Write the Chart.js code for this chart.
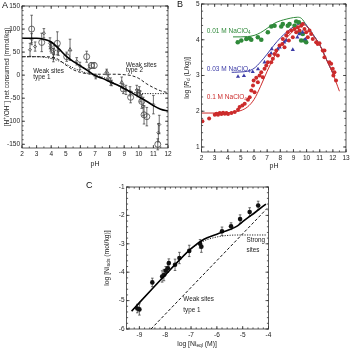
<!DOCTYPE html>
<html>
<head>
<meta charset="utf-8">
<script src="https://cdn.jsdelivr.net/npm/chart.js@4.4.1/dist/chart.umd.min.js"></script>
<style>
html,body{margin:0;padding:0;background:#fff;}
#wrap{position:relative;width:350px;height:350px;background:#fff;overflow:hidden;}
#wrap canvas{position:absolute;left:0;top:0;}
</style>
</head>
<body>
<div id="wrap">
<canvas id="chartA" width="350" height="350"></canvas>
<canvas id="chartB" width="350" height="350"></canvas>
<canvas id="chartC" width="350" height="350"></canvas>
</div>
<script>
const FONT = '"Liberation Sans", Arial, Helvetica, sans-serif';

// ---------------- Panel A data ----------------
const aCurvePH = [2,2.5,3,3.5,4,4.5,5,5.5,6,6.5,7,7.5,8,8.5,9,9.5,10,10.5,11,11.5,12];
const aTotal   = [80,80,80,78,72,58,42,30,20,10,-1,-7,-14,-21,-29,-38,-47,-56,-66,-74,-78];
const aType1   = [40,40,40,39,36,31,24,16,9,4,0,-4,-11,-21,-30,-36,-39,-40,-40,-40,-40];
const aType2   = [40,40,40,40,39,34,22,12,6,3,2,2,2,2,1,-1,-7,-18,-27,-34,-38];

const aCircPH  = [2.66,3.35,4.42,5.06,6.43,6.75,6.95,8.94,9.44,10.2,10.36,10.55,11.3];
const aCircVal = [100,71,69,40,40,21,21,-30,-48,-57,-86,-90,-150];
const aCircErr = [30,20,25,10,12,6,6,10,12,15,20,20,12];

const aTriPH   = [5.29,7.8,8.83];
const aTriVal  = [55,7,-16];
const aTriErr  = [23,6,12];

const aDotPH   = [2.55,2.66,2.9,3.5,3.92,3.96,4.0,4.15,4.15,4.2,4.5,5.75,5.97,6.6,7.05,7.9,8.07,8.14,9.12,9.4,9.86,9.92,10.04,10.1,10.3,11.0,11.4,11.34];
const aDotVal  = [55,78,62,91,69,62,58,48,37,54,53,30,20,14,-3,-6,-14,-17,-32,-35,-32,-39,-35,-46,-68,-64,-107,-125];
const aDotErr  = [14,12,10,10,12,10,10,10,8,10,10,8,8,8,5,6,8,6,10,10,10,8,10,12,20,20,20,20];

// ---------------- Panel B data ----------------
const bRedCurvePH  = [2,2.5,3,3.5,4,4.5,5,5.5,6,6.5,7,7.5,8,8.5,9,9.5,9.8,10,10.5,11,11.5,12,12.5];
const bRedCurve    = [1.95,1.95,1.95,1.95,1.96,1.98,2.02,2.12,2.33,2.7,3.12,3.5,3.82,4.06,4.25,4.38,4.42,4.38,4.12,3.85,3.45,3.05,2.56];
const bBlueCurvePH = [4.3,4.5,5,5.5,6,6.5,7,7.5,8,8.5,9,9.5,9.8,10,10.5,11,11.5,12];
const bBlueCurve   = [3.09,3.09,3.1,3.12,3.2,3.38,3.6,3.84,4.05,4.22,4.36,4.45,4.47,4.4,4.14,3.86,3.46,3.06];
const bGreenCurvePH= [4.4,5,5.5,6,6.5,7,7.5,8,8.5,9,9.3,9.6,10,10.5,11,11.5,12];
const bGreenCurve  = [4.08,4.08,4.09,4.12,4.2,4.32,4.45,4.53,4.58,4.62,4.63,4.6,4.4,4.14,3.86,3.46,3.08];

const bRedPH  = [2.07,2.58,3.01,3.14,3.26,3.39,3.52,3.64,3.77,3.9,4.02,4.28,4.53,4.78,4.9,5.11,5.29,5.54,5.67,5.79,5.92,5.97,6.04,6.17,6.29,6.42,6.55,6.67,6.8,6.93,7.05,7.18,7.31,7.43,7.56,7.69,7.81,7.94,8.15,8.19,8.32,8.45,8.57,8.65,8.83,8.95,9.08,9.21,9.33,9.46,9.59,9.71,9.84,9.97,10.09,10.22,10.35,10.47,10.73,10.85,10.98,11.23,11.36,11.36,11.74,11.87,11.99,12.12,12.04,12.24];
const bRedVal = [1.72,1.8,1.9,1.93,1.9,1.95,1.92,1.96,1.93,1.95,1.92,1.95,1.98,2.04,2.12,2.16,2.21,2.32,2.39,2.58,2.72,2.86,2.53,2.94,2.81,3.0,3.09,2.95,3.19,3.28,3.37,3.56,3.37,3.47,3.6,3.7,3.56,3.84,3.88,4.02,3.79,4.12,4.21,3.98,4.26,4.07,4.3,4.21,4.35,4.26,4.39,4.44,4.3,4.21,4.07,4.26,4.16,4.02,3.93,3.88,3.9,3.7,3.7,3.51,3.37,3.33,3.19,3.09,3.0,2.86];
const bBluePH  = [4.78,5.23,5.9,6.3,6.8,7.3,7.35,7.8,7.95,8.3,8.45,8.95,9.3,9.45,9.7,9.9];
const bBlueVal = [2.97,2.99,3.1,3.18,3.37,3.62,3.74,3.74,3.79,3.93,3.98,3.72,4.07,4.16,4.21,4.02];
const bGreenPH  = [4.76,5.03,5.41,5.66,5.79,6.29,6.55,7.05,7.31,7.56,8.07,8.19,8.57,8.7,9.08,9.21,9.41,9.46,9.59,9.71,9.84,9.97];
const bGreenVal = [3.93,3.98,4.02,4.04,4.0,4.07,4.0,4.21,4.37,4.39,4.37,4.44,4.39,4.44,4.39,4.51,4.49,4.21,3.98,4.16,3.98,3.93];

// ---------------- Panel C data ----------------
const cSolidX  = [-9.3,-9,-8.5,-8,-7.5,-7,-6.5,-6,-5.5,-5.2,-5,-4.5,-4.1];
const cSolidY  = [-5.37,-5.07,-4.58,-4.1,-3.62,-3.17,-2.84,-2.66,-2.5,-2.37,-2.22,-1.88,-1.6];
const cStrongX = [-9.3,-9,-8.5,-8,-7.5,-7,-6.5,-6,-5.5,-5,-4.5,-4.1];
const cStrongY = [-5.37,-5.07,-4.58,-4.1,-3.62,-3.18,-2.9,-2.76,-2.7,-2.69,-2.69,-2.69];
const cWeakX   = [-8.55,-4.05];
const cWeakY   = [-6,-1.75];
const cPtX   = [-9.08,-9.0,-8.5,-8.12,-8.05,-7.98,-7.9,-7.86,-7.62,-7.45,-7.07,-6.65,-6.6,-5.8,-5.45,-5.1,-4.73,-4.4];
const cPtY   = [-5.28,-5.31,-4.36,-4.15,-4.1,-3.95,-3.86,-3.68,-3.74,-3.5,-3.25,-3.0,-3.1,-2.56,-2.38,-2.13,-1.88,-1.65];
const cPtErr = [0.15,0.2,0.15,0.2,0.2,0.15,0.15,0.15,0.2,0.2,0.2,0.15,0.2,0.15,0.12,0.15,0.15,0.15];

// ---------------- helpers ----------------
const pts = (xs, ys) => xs.map((x, i) => ({x: x, y: ys[i]}));

function rich(ctx, parts, x, y, o) {
  const size = o.size;
  const fontFor = k => {
    const small = (k === 'sub' || k === 'sup' || k === 'isub');
    const s = small ? size * 0.72 : size;
    const it = (k === 'i' || k === 'isub') ? 'italic ' : '';
    return it + s + 'px ' + FONT;
  };
  let w = 0;
  parts.forEach(([t, k]) => { ctx.font = fontFor(k); w += ctx.measureText(t).width; });
  ctx.save();
  ctx.translate(x, y);
  if (o.rotate) ctx.rotate(o.rotate);
  let cx = o.align === 'center' ? -w / 2 : (o.align === 'right' ? -w : 0);
  ctx.fillStyle = o.color || '#222';
  ctx.textBaseline = 'middle';
  ctx.textAlign = 'left';
  parts.forEach(([t, k]) => {
    ctx.font = fontFor(k);
    const dy = (k === 'sub' || k === 'isub') ? size * 0.28 : (k === 'sup' ? -size * 0.32 : 0);
    ctx.fillText(t, cx, dy);
    cx += ctx.measureText(t).width;
  });
  ctx.restore();
}

const framePlugin = {
  id: 'frameTicks',
  afterDatasetsDraw(chart, args, opts) {
    const {ctx, chartArea: a, scales} = chart;
    const sx = scales.x, sy = scales.y;
    ctx.save();
    ctx.strokeStyle = '#333';
    ctx.lineWidth = 0.8;
    ctx.setLineDash([]);
    ctx.strokeRect(a.left, a.top, a.right - a.left, a.bottom - a.top);
    const ticks = (scale, step, len, horiz) => {
      const i0 = Math.ceil(scale.min / step - 1e-6), i1 = Math.floor(scale.max / step + 1e-6);
      for (let i = i0; i <= i1; i++) {
        const p = scale.getPixelForValue(i * step);
        ctx.beginPath();
        if (horiz) {
          ctx.moveTo(p, a.bottom); ctx.lineTo(p, a.bottom - len);
          ctx.moveTo(p, a.top); ctx.lineTo(p, a.top + len);
        } else {
          ctx.moveTo(a.left, p); ctx.lineTo(a.left + len, p);
          ctx.moveTo(a.right, p); ctx.lineTo(a.right - len, p);
        }
        ctx.stroke();
      }
    };
    ticks(sx, opts.xMajor, 3, true);
    ticks(sx, opts.xMinor, 1.6, true);
    ticks(sy, opts.yMajor, 3, false);
    ticks(sy, opts.yMinor, 1.6, false);
    ctx.restore();
  }
};

const errPlugin = {
  id: 'errBars',
  beforeDatasetsDraw(chart) {
    const {ctx, scales} = chart;
    ctx.save();
    chart.data.datasets.forEach(ds => {
      if (!ds.errors) return;
      ctx.strokeStyle = ds.errColor || '#333';
      ctx.lineWidth = 0.7;
      ds.data.forEach((d, i) => {
        const e = ds.errors[i];
        const x = scales.x.getPixelForValue(d.x);
        const y1 = scales.y.getPixelForValue(d.y + e);
        const y2 = scales.y.getPixelForValue(d.y - e);
        ctx.beginPath();
        ctx.moveTo(x, y1); ctx.lineTo(x, y2);
        ctx.moveTo(x - 1.3, y1); ctx.lineTo(x + 1.3, y1);
        ctx.moveTo(x - 1.3, y2); ctx.lineTo(x + 1.3, y2);
        ctx.stroke();
      });
    });
    ctx.restore();
  }
};

const textPlugin = {
  id: 'texts',
  afterDraw(chart, args, opts) {
    const {ctx, chartArea: a, scales} = chart;
    (opts.items || []).forEach(it => {
      let x, y;
      if (it.data) { x = scales.x.getPixelForValue(it.data[0]); y = scales.y.getPixelForValue(it.data[1]); }
      else { x = it.px[0]; y = it.px[1]; }
      rich(ctx, it.parts, x, y, {size: it.size, color: it.color, align: it.align || 'left', rotate: it.rotate || 0});
    });
  }
};

function axis(min, max, step, fixed, horiz, labelSize) {
  return {
    type: 'linear', min: min, max: max,
    afterFit: s => {
      if (horiz) s.height = fixed; else s.width = fixed;
      s.paddingLeft = 0; s.paddingRight = 0; s.paddingTop = 0; s.paddingBottom = 0;
    },
    ticks: {
      stepSize: step, includeBounds: false, autoSkip: false, maxRotation: 0,
      font: {family: FONT, size: labelSize}, color: '#222', padding: horiz ? 2 : 2
    },
    grid: {display: false, drawTicks: false},
    border: {display: false},
    title: {display: false}
  };
}

function lineDS(data, color, width, dash) {
  return {data: data, showLine: true, borderColor: color, borderWidth: width, borderDash: dash || [],
          pointRadius: 0, fill: false, tension: 0.35, cubicInterpolationMode: 'monotone', order: 0};
}

function baseOptions(padding, scales, frame, texts) {
  return {
    responsive: false, animation: false, devicePixelRatio: 1,
    layout: {padding: padding},
    scales: scales,
    plugins: {legend: {display: false}, tooltip: {enabled: false}, title: {display: false},
              frameTicks: frame, texts: {items: texts}},
    events: []
  };
}

// ---------------- Chart A ----------------
new Chart(document.getElementById('chartA'), {
  type: 'scatter',
  data: {datasets: [
    lineDS(pts(aCurvePH, aTotal), '#000', 1.6),
    lineDS(pts(aCurvePH, aType1), '#222', 1, [1.2, 1.4]),
    lineDS(pts(aCurvePH, aType2), '#222', 1, [3, 2]),
    {data: pts(aCircPH, aCircVal), errors: aCircErr, pointStyle: 'circle', pointRadius: 3,
     backgroundColor: 'rgba(255,255,255,0)', borderColor: '#444', borderWidth: 0.8, showLine: false},
    {data: pts(aTriPH, aTriVal), errors: aTriErr, pointStyle: 'triangle', pointRadius: 2.2,
     backgroundColor: 'rgba(255,255,255,0)', borderColor: '#444', borderWidth: 0.8, showLine: false},
    {data: pts(aDotPH, aDotVal), errors: aDotErr, pointStyle: 'rectRot', pointRadius: 1.6,
     backgroundColor: 'rgba(255,255,255,0)', borderColor: '#444', borderWidth: 0.8, showLine: false}
  ]},
  options: baseOptions({left: 0, top: 6, right: 182, bottom: 182},
    {x: axis(2, 12, 1, 20, true, 6.5), y: axis(-158, 150, 50, 22, false, 6.5)},
    {xMajor: 1, xMinor: 0.5, yMajor: 50, yMinor: 10},
    [
      {px: [2, 6], parts: [['A', 'n']], size: 9, color: '#111'},
      {px: [7, 77], parts: [['[H', 'n'], ['+', 'sup'], ['/OH', 'n'], ['\u2212', 'sup'], ['] net consumed (mmol/kg)', 'n']], size: 6.5, align: 'center', rotate: -Math.PI / 2},
      {px: [95, 164], parts: [['pH', 'n']], size: 7, align: 'center'},
      {data: [2.77, 8.5], parts: [['Weak sites', 'n']], size: 6.3},
      {data: [2.77, -4], parts: [['type 1', 'n']], size: 6.3},
      {data: [9.12, 22], parts: [['Weak sites', 'n']], size: 6.3},
      {data: [9.12, 10], parts: [['type 2', 'n']], size: 6.3}
    ]),
  plugins: [errPlugin, framePlugin, textPlugin]
});

// ---------------- Chart B ----------------
const RED = '#cc2b2b', BLUE = '#3b3aa6', GREEN = '#2f8a3a';
new Chart(document.getElementById('chartB'), {
  type: 'scatter',
  data: {datasets: [
    {data: pts(bRedPH, bRedVal), pointStyle: 'circle', pointRadius: 2, backgroundColor: RED, borderColor: RED, borderWidth: 0, showLine: false},
    {data: pts(bBluePH, bBlueVal), pointStyle: 'triangle', pointRadius: 2.4, backgroundColor: BLUE, borderColor: BLUE, borderWidth: 0, showLine: false},
    {data: pts(bGreenPH, bGreenVal), pointStyle: 'circle', pointRadius: 2.3, backgroundColor: GREEN, borderColor: GREEN, borderWidth: 0, showLine: false},
    lineDS(pts(bRedCurvePH, bRedCurve), RED, 1),
    lineDS(pts(bBlueCurvePH, bBlueCurve), BLUE, 1),
    lineDS(pts(bGreenCurvePH, bGreenCurve), GREEN, 1)
  ]},
  options: baseOptions({left: 181.5, top: 3, right: 3.5, bottom: 178},
    {x: axis(2, 13, 1, 20, true, 6.5), y: axis(0.86, 5, 1, 20, false, 6.5)},
    {xMajor: 1, xMinor: 0.5, yMajor: 1, yMinor: 0.2},
    [
      {px: [177, 5], parts: [['B', 'n']], size: 9, color: '#111'},
      {px: [187, 78], parts: [['log [', 'n'], ['R', 'i'], ['d', 'sub'], [' (L/kg)]', 'n']], size: 6.8, align: 'center', rotate: -Math.PI / 2},
      {px: [274, 166], parts: [['pH', 'n']], size: 7, align: 'center'},
      {data: [2.4, 4.25], parts: [['0.01 M NaClO', 'n'], ['4', 'sub']], size: 6.5, color: GREEN},
      {data: [2.4, 3.17], parts: [['0.03 M NaClO', 'n'], ['4', 'sub']], size: 6.5, color: BLUE},
      {data: [2.4, 2.38], parts: [['0.1 M NaClO', 'n'], ['4', 'sub']], size: 6.5, color: RED}
    ]),
  plugins: [framePlugin, textPlugin]
});

// ---------------- Chart C ----------------
new Chart(document.getElementById('chartC'), {
  type: 'scatter',
  data: {datasets: [
    lineDS(pts(cSolidX, cSolidY), '#000', 1.6),
    lineDS(pts(cStrongX, cStrongY), '#222', 1, [1.2, 1.3]),
    lineDS(pts(cWeakX, cWeakY), '#111', 1, [3, 2]),
    {data: pts(cPtX, cPtY), errors: cPtErr, pointStyle: 'circle', pointRadius: 2.3,
     backgroundColor: '#111', borderColor: '#111', borderWidth: 0, showLine: false}
  ]},
  options: baseOptions({left: 106.5, top: 187, right: 81.5, bottom: 1},
    {x: axis(-9.5, -4, 1, 20, true, 6.5), y: axis(-6, -1, 1, 20, false, 6.5)},
    {xMajor: 1, xMinor: 0.2, yMajor: 1, yMinor: 0.2},
    [
      {px: [86, 186], parts: [['C', 'n']], size: 9, color: '#111'},
      {px: [107, 258], parts: [['log [Ni', 'n'], ['ads', 'sub'], [' (mol/kg)]', 'n']], size: 6.8, align: 'center', rotate: -Math.PI / 2},
      {px: [197, 344], parts: [['log [Ni', 'n'], ['eql', 'sub'], [' (M)]', 'n']], size: 6.8, align: 'center'},
      {data: [-7.3, -4.95], parts: [['Weak sites', 'n']], size: 6.3},
      {data: [-7.3, -5.33], parts: [['type 1', 'n']], size: 6.3},
      {data: [-4.85, -2.88], parts: [['Strong', 'n']], size: 6.3},
      {data: [-4.85, -3.23], parts: [['sites', 'n']], size: 6.3}
    ]),
  plugins: [errPlugin, framePlugin, textPlugin]
});
</script>
</body>
</html>
